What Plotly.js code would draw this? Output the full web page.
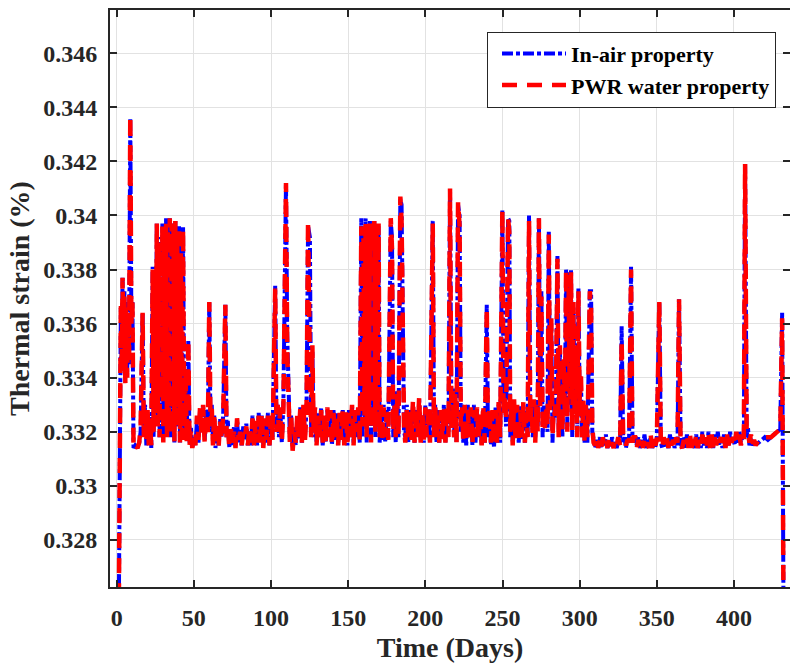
<!DOCTYPE html>
<html><head><meta charset="utf-8">
<script src="https://cdn.plot.ly/plotly-3.0.1.min.js"></script>
<style>html,body{margin:0;padding:0;background:#fff;} #chart{width:790px;height:663px;}</style>
</head><body><div id="chart"></div>
<script>
// ---- data ----
const days = [
  // start + first spikes
  1.2,2.0,2.7,3.2,3.8,4.4,5.0,5.6,6.2,6.8,
  7.4,8.0,8.8,9.5,10.2,10.9,12.0,13.5,14.6,15.5,
  16.8,17.6,18.4,19.2,20.0,20.8,21.6,22.4,
  // dense cluster 23-47
  23.3,23.9,24.6,25.3,26.0,26.6,27.2,27.8,28.4,29.0,
  29.6,30.2,30.8,31.4,32.0,32.6,33.2,33.8,34.4,35.0,
  35.6,36.2,36.8,37.4,38.0,38.6,39.2,39.8,40.4,41.0,
  41.6,42.2,43.0,43.8,44.6,45.4,46.4,47.2,
  // 48-101
  48,49,50,51,52,53,54,55,56,57,
  58,59,60,60.8,61.6,62.4,63.2,64,65,66,
  67,68,69,70.4,71.2,72,73,74,75,76,
  77,78,79,80,81,82,83,84,85,86,
  87,88,89,90,91,92,93,94,95,96,
  97,98,99,100,101,
  // 102-128
  102.7,103.5,104.3,105.1,106.0,107.0,108.0,109.7,110.5,111.3,
  112.2,113.0,114.0,115.0,116.0,117.0,118.0,119.0,120.0,121.0,
  122.0,123.0,124.0,125.2,126.0,126.8,127.6,
  // 128-158
  128.5,129.5,130.5,131.5,132.5,133.5,134.5,135.5,136.5,137.5,
  138.5,139.5,140.5,141.5,142.5,143.5,144.5,145.5,146.5,147.5,
  148.5,149.5,150.5,151.5,152.5,153.5,154.5,155.5,156.5,157.5,
  // 158-187
  158.5,159.2,159.9,160.6,161.3,162.0,162.7,163.4,164.1,164.8,
  165.5,166.2,166.9,167.6,168.3,169.0,169.7,170.4,171.2,172.0,
  173.0,174.0,175.0,176.0,177.6,178.4,179.2,180.0,180.8,181.6,
  182.6,183.8,184.6,185.4,186.2,187.0,
  // 188-266
  188,189,190,191,192,193,194,195,196,197,
  198,199,200,201,202,203,204.8,205.6,206.4,207.2,
  208,209,210,211,212,213,214,215,216,216.9,
  217.8,218.6,219.4,220.2,221.2,222.2,223,223.8,224.6,225.5,
  226.5,227.5,228.5,229.5,230.5,231.5,232.5,233.5,234.5,235.5,
  236.5,237.5,238.5,239.8,240.6,241.5,242.5,243.5,244.5,245.5,
  246.5,247.5,248.5,249.9,250.7,251.5,252.3,253.6,254.4,255,
  255.8,256.6,257.5,258.5,259.5,260.5,261.5,262.5,263.5,264.5,
  265.5,266.3,
  // 267-308
  267.2,268.0,268.8,269.6,270.4,271.2,272.0,272.8,273.6,274.4,
  275.2,276.0,276.8,277.6,278.4,279.2,280.0,280.8,281.6,282.4,
  283.2,284.0,284.8,285.6,286.4,287.2,288.0,288.8,289.6,290.4,
  291.2,292.0,292.8,293.6,294.4,295.2,296.0,296.8,297.6,298.4,
  299.2,300.0,300.8,301.6,302.4,303.2,304.0,305.0,306.6,307.4,
  308.2,
  // 309-433
  309,310,311,312,313,314,315,316,317,318,
  319,320,321,322,323,324,325,326.2,327.2,328.2,
  329,330,331,332,333.3,334.2,335,336,337,338,
  339,340,341,342,343,344,345,346,347,348,
  349,350,351.6,352.6,353.5,354.5,355.5,356.5,357.5,358.5,
  359.5,360.5,361.5,362.5,363.4,364.4,365.4,366.4,367.5,368.5,
  369.5,370.5,371.5,372.5,373.5,374.5,375.5,376.5,377.5,378.5,
  379.5,380.5,381.5,382.5,383.5,384.5,385.5,386.5,387.5,388.5,
  389.5,390.5,391.5,392.5,393.5,394.5,395.5,396.5,397.5,398.5,
  399.5,400.5,401.5,402.5,403.5,404.5,405.5,406.4,407.2,408.2,
  409,410,411,412,413,414,416,418,420,422,
  424,426,428,430,431.2,432.2
];

const inAirStrain = [
  0.3240,0.3335,0.3366,0.3345,0.3377,0.3350,0.3372,0.3340,0.3368,0.3342,
  0.3362,0.3345,0.3436,0.3362,0.3368,0.3314,0.3315,0.3314,0.3316,0.3320,
  0.3364,0.3318,0.3330,0.3315,0.3327,0.3316,0.3326,0.3314,
  0.3381,0.3318,0.3372,0.3330,0.3397,0.3325,0.3392,0.3318,0.3388,0.3330,
  0.3397,0.3318,0.3394,0.3335,0.3399,0.3320,0.3395,0.3328,0.3399,0.3318,
  0.3396,0.3325,0.3397,0.3316,0.3398,0.3322,0.3394,0.3330,0.3396,0.3316,
  0.3388,0.3320,0.3396,0.3318,0.3340,0.3318,0.3354,0.3316,
  0.3322,0.3314,0.3318,0.3315,0.3324,0.3316,0.3328,0.3320,0.3329,0.3317,
  0.3328,0.3320,0.3368,0.3320,0.3330,0.3316,0.3326,0.3314,0.3322,0.3315,
  0.3325,0.3318,0.3326,0.3367,0.3318,0.3324,0.3314,0.3320,0.3315,0.3322,
  0.3315,0.3324,0.3316,0.3321,0.3315,0.3322,0.3317,0.3323,0.3315,0.3320,
  0.3315,0.3326,0.3316,0.3322,0.3315,0.3327,0.3317,0.3326,0.3315,0.3324,
  0.3316,0.3327,0.3315,0.3325,0.3318,
  0.3374,0.3322,0.3330,0.3318,0.3328,0.3316,0.3330,0.3412,0.3356,0.3332,
  0.3318,0.3326,0.3314,0.3322,0.3315,0.3324,0.3317,0.3329,0.3316,0.3329,
  0.3318,0.3328,0.3396,0.3392,0.3320,0.3350,0.3318,
  0.3328,0.3316,0.3327,0.3318,0.3329,0.3315,0.3324,0.3316,0.3328,0.3319,
  0.3326,0.3315,0.3328,0.3317,0.3327,0.3315,0.3326,0.3318,0.3328,0.3316,
  0.3327,0.3315,0.3328,0.3318,0.3329,0.3316,0.3328,0.3318,0.3328,0.3316,
  0.3399,0.3318,0.3394,0.3325,0.3399,0.3316,0.3396,0.3326,0.3398,0.3318,
  0.3394,0.3328,0.3398,0.3318,0.3395,0.3322,0.3396,0.3316,0.3328,0.3317,
  0.3330,0.3316,0.3328,0.3318,0.3398,0.3392,0.3318,0.3332,0.3316,0.3335,
  0.3318,0.3406,0.3404,0.3340,0.3320,0.3318,
  0.3330,0.3316,0.3328,0.3318,0.3330,0.3316,0.3328,0.3318,0.3332,0.3317,
  0.3326,0.3316,0.3330,0.3318,0.3328,0.3316,0.3398,0.3320,0.3330,0.3316,
  0.3328,0.3316,0.3327,0.3318,0.3330,0.3316,0.3328,0.3320,0.3409,0.3322,
  0.3336,0.3318,0.3332,0.3316,0.3404,0.3400,0.3320,0.3330,0.3316,0.3328,
  0.3315,0.3330,0.3318,0.3327,0.3315,0.3330,0.3316,0.3328,0.3318,0.3326,
  0.3315,0.3328,0.3316,0.3367,0.3318,0.3328,0.3315,0.3326,0.3314,0.3329,
  0.3316,0.3330,0.3316,0.3402,0.3330,0.3336,0.3322,0.3399,0.3398,0.3318,
  0.3332,0.3316,0.3330,0.3318,0.3328,0.3316,0.3330,0.3317,0.3330,0.3316,
  0.3328,0.3318,
  0.3400,0.3322,0.3330,0.3318,0.3330,0.3318,0.3328,0.3322,0.3399,0.3330,
  0.3372,0.3318,0.3330,0.3322,0.3328,0.3320,0.3394,0.3330,0.3360,0.3316,
  0.3330,0.3325,0.3340,0.3385,0.3320,0.3350,0.3330,0.3318,0.3345,0.3328,
  0.3380,0.3322,0.3379,0.3330,0.3380,0.3318,0.3366,0.3328,0.3350,0.3320,
  0.3373,0.3330,0.3340,0.3318,0.3330,0.3316,0.3328,0.3316,0.3372,0.3372,
  0.3320,
  0.3318,0.3314,0.3317,0.3315,0.3318,0.3314,0.3317,0.3315,0.3319,0.3314,
  0.3316,0.3314,0.3318,0.3315,0.3316,0.3314,0.3317,0.3316,0.3359,0.3316,
  0.3318,0.3314,0.3318,0.3316,0.3381,0.3318,0.3316,0.3319,0.3315,0.3318,
  0.3314,0.3317,0.3315,0.3319,0.3314,0.3317,0.3315,0.3318,0.3314,0.3316,
  0.3314,0.3318,0.3368,0.3316,0.3314,0.3318,0.3314,0.3317,0.3314,0.3319,
  0.3315,0.3318,0.3314,0.3317,0.3315,0.3369,0.3316,0.3314,0.3318,0.3314,
  0.3319,0.3315,0.3318,0.3314,0.3317,0.3314,0.3319,0.3314,0.3318,0.3314,
  0.3320,0.3315,0.3318,0.3314,0.3320,0.3315,0.3318,0.3314,0.3319,0.3315,
  0.3320,0.3315,0.3318,0.3314,0.3319,0.3315,0.3318,0.3315,0.3320,0.3316,
  0.3318,0.3315,0.3319,0.3316,0.3320,0.3316,0.3318,0.3317,0.3419,0.3318,
  0.3322,0.3315,0.3318,0.3315,0.3316,0.3315,0.3316,0.3317,0.3318,0.3317,
  0.3318,0.3319,0.3320,0.3321,0.3364,0.3240
];

const pwrStrain = [
  0.3240,0.3330,0.3368,0.3342,0.3377,0.3352,0.3370,0.3338,0.3366,0.3340,
  0.3364,0.3346,0.3437,0.3360,0.3368,0.3314,0.3315,0.3314,0.3316,0.3322,
  0.3364,0.3318,0.3328,0.3316,0.3328,0.3315,0.3324,0.3315,
  0.3380,0.3320,0.3370,0.3330,0.3397,0.3322,0.3390,0.3318,0.3387,0.3332,
  0.3396,0.3316,0.3393,0.3334,0.3398,0.3318,0.3395,0.3326,0.3399,0.3319,
  0.3397,0.3324,0.3396,0.3316,0.3398,0.3321,0.3393,0.3329,0.3396,0.3316,
  0.3386,0.3318,0.3395,0.3317,0.3342,0.3316,0.3354,0.3315,
  0.3320,0.3314,0.3319,0.3315,0.3326,0.3317,0.3329,0.3318,0.3330,0.3316,
  0.3327,0.3318,0.3368,0.3322,0.3329,0.3315,0.3327,0.3316,0.3324,0.3314,
  0.3324,0.3317,0.3326,0.3367,0.3318,0.3322,0.3314,0.3321,0.3316,0.3320,
  0.3314,0.3325,0.3317,0.3320,0.3315,0.3320,0.3318,0.3322,0.3315,0.3322,
  0.3316,0.3325,0.3315,0.3324,0.3316,0.3326,0.3316,0.3327,0.3314,0.3325,
  0.3317,0.3326,0.3315,0.3326,0.3317,
  0.3373,0.3320,0.3330,0.3320,0.3329,0.3316,0.3328,0.3412,0.3350,0.3334,
  0.3316,0.3327,0.3313,0.3320,0.3316,0.3326,0.3318,0.3329,0.3316,0.3330,
  0.3317,0.3328,0.3398,0.3345,0.3318,0.3352,0.3320,
  0.3329,0.3315,0.3326,0.3318,0.3328,0.3316,0.3326,0.3316,0.3329,0.3318,
  0.3328,0.3315,0.3327,0.3318,0.3326,0.3315,0.3327,0.3317,0.3329,0.3315,
  0.3328,0.3316,0.3327,0.3318,0.3330,0.3315,0.3328,0.3320,0.3329,0.3316,
  0.3396,0.3322,0.3392,0.3326,0.3398,0.3318,0.3395,0.3328,0.3397,0.3316,
  0.3395,0.3326,0.3398,0.3320,0.3394,0.3322,0.3397,0.3318,0.3330,0.3316,
  0.3329,0.3318,0.3327,0.3317,0.3399,0.3388,0.3320,0.3330,0.3318,0.3334,
  0.3318,0.3407,0.3398,0.3336,0.3322,0.3316,
  0.3328,0.3318,0.3329,0.3317,0.3332,0.3316,0.3329,0.3318,0.3333,0.3316,
  0.3328,0.3317,0.3329,0.3318,0.3330,0.3316,0.3397,0.3318,0.3330,0.3318,
  0.3326,0.3316,0.3328,0.3317,0.3329,0.3316,0.3330,0.3318,0.3410,0.3320,
  0.3335,0.3318,0.3334,0.3316,0.3405,0.3396,0.3322,0.3329,0.3316,0.3330,
  0.3316,0.3328,0.3318,0.3329,0.3315,0.3328,0.3318,0.3329,0.3317,0.3327,
  0.3315,0.3330,0.3316,0.3366,0.3320,0.3329,0.3316,0.3328,0.3315,0.3328,
  0.3316,0.3331,0.3318,0.3402,0.3326,0.3334,0.3324,0.3399,0.3394,0.3320,
  0.3330,0.3315,0.3332,0.3316,0.3330,0.3316,0.3328,0.3318,0.3331,0.3316,
  0.3327,0.3318,
  0.3398,0.3324,0.3329,0.3318,0.3332,0.3316,0.3330,0.3320,0.3399,0.3328,
  0.3370,0.3320,0.3329,0.3320,0.3330,0.3322,0.3393,0.3328,0.3362,0.3318,
  0.3328,0.3326,0.3342,0.3384,0.3318,0.3352,0.3328,0.3320,0.3347,0.3326,
  0.3380,0.3320,0.3378,0.3332,0.3379,0.3320,0.3368,0.3326,0.3352,0.3318,
  0.3372,0.3330,0.3342,0.3318,0.3332,0.3316,0.3330,0.3318,0.3372,0.3366,
  0.3322,
  0.3316,0.3315,0.3318,0.3314,0.3317,0.3314,0.3318,0.3315,0.3317,0.3314,
  0.3318,0.3315,0.3316,0.3314,0.3317,0.3315,0.3318,0.3315,0.3354,0.3318,
  0.3316,0.3315,0.3317,0.3316,0.3380,0.3316,0.3318,0.3318,0.3314,0.3317,
  0.3315,0.3318,0.3314,0.3318,0.3315,0.3316,0.3314,0.3319,0.3314,0.3318,
  0.3315,0.3317,0.3368,0.3315,0.3314,0.3318,0.3315,0.3318,0.3314,0.3318,
  0.3315,0.3317,0.3314,0.3318,0.3316,0.3369,0.3315,0.3314,0.3317,0.3315,
  0.3318,0.3314,0.3319,0.3314,0.3318,0.3315,0.3319,0.3314,0.3317,0.3315,
  0.3319,0.3314,0.3318,0.3315,0.3319,0.3314,0.3319,0.3314,0.3318,0.3315,
  0.3319,0.3316,0.3318,0.3315,0.3318,0.3314,0.3319,0.3315,0.3319,0.3316,
  0.3318,0.3315,0.3320,0.3316,0.3319,0.3315,0.3318,0.3317,0.3419,0.3320,
  0.3320,0.3316,0.3319,0.3315,0.3317,0.3315,0.3317,0.3317,0.3318,0.3318,
  0.3318,0.3319,0.3320,0.3321,0.3362,0.3240
];

const seriesNames = ["In-air property", "PWR water property"];
const xTickVals = [0, 50, 100, 150, 200, 250, 300, 350, 400];
const yTickVals = [0.328, 0.330, 0.332, 0.334, 0.336, 0.338, 0.340, 0.342, 0.344, 0.346];
const yTickText = ["0.328", "0.33", "0.332", "0.334", "0.336", "0.338", "0.34", "0.342", "0.344", "0.346"];
const xTitle = "Time (Days)";
const yTitle = "Thermal strain (%)";

// ---- drawing ----
const FAM = '"Liberation Serif", "Times New Roman", Times, serif';
const INK = '#262626';

const traces = [
  { x: days, y: inAirStrain, name: seriesNames[0], type: 'scatter', mode: 'lines',
    line: { color: '#0000ff', width: 4, dash: '11px,3px,4px,3px' } },
  { x: days, y: pwrStrain, name: seriesNames[1], type: 'scatter', mode: 'lines',
    line: { color: '#ff0000', width: 4.5, dash: '15px,10px' } }
];

const axisCommon = {
  ticks: 'inside', ticklen: 7, tickwidth: 2, tickcolor: INK,
  showline: true, linewidth: 2, linecolor: INK, mirror: 'ticks',
  showgrid: true, gridcolor: '#e2e2e2', gridwidth: 1, zeroline: false,
  tickfont: { family: FAM, size: 24, color: INK, weight: 700 }
};

const layout = {
  width: 790, height: 663,
  margin: { l: 110, r: 0, t: 10, b: 76, pad: 0 },
  paper_bgcolor: '#ffffff', plot_bgcolor: '#ffffff',
  showlegend: true,
  legend: {
    x: 0.9794, xanchor: 'right', y: 0.9624, yanchor: 'top',
    bgcolor: '#ffffff', bordercolor: INK, borderwidth: 1,
    itemwidth: 64, indentation: 9, tracegroupgap: 0,
    font: { family: FAM, size: 22, color: '#000000', weight: 700 }
  },
  xaxis: Object.assign({}, axisCommon, {
    range: [-4.34, 436.3], tickmode: 'array', tickvals: xTickVals,
    ticklabelstandoff: 8,
    title: { text: xTitle, standoff: 12, font: { family: FAM, size: 28, color: INK, weight: 700 } }
  }),
  yaxis: Object.assign({}, axisCommon, {
    range: [0.32626, 0.3476], tickmode: 'array', tickvals: yTickVals, ticktext: yTickText,
    ticklabelstandoff: 6,
    title: { text: yTitle, standoff: 5, font: { family: FAM, size: 28, color: INK, weight: 700 } }
  }),
  hovermode: false
};

Plotly.newPlot('chart', traces, layout, { staticPlot: true, displayModeBar: false });
</script>
</body></html>
